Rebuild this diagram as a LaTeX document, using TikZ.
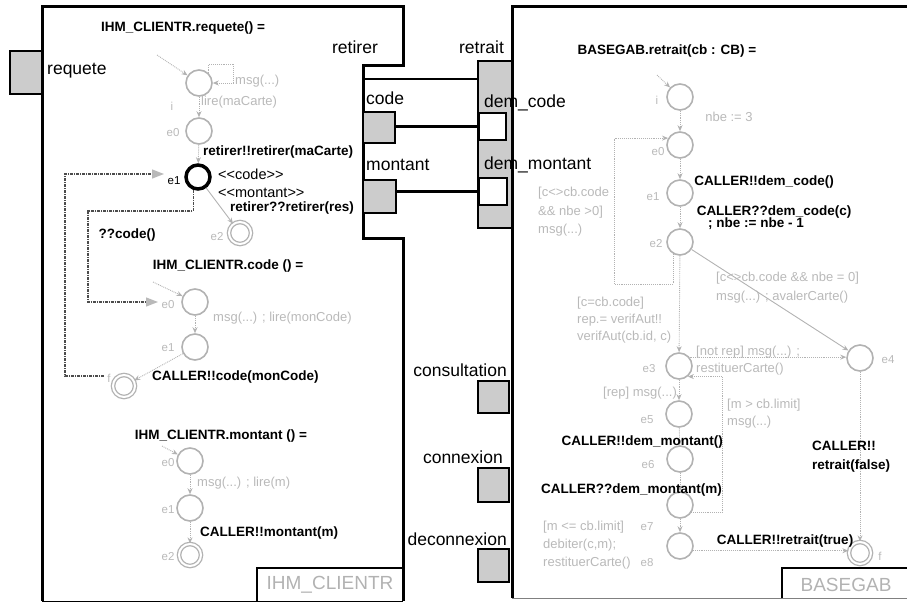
\documentclass[tikz,border=0pt]{standalone}
\usepackage{fontspec}
\setmainfont{Liberation Sans}
\usetikzlibrary{arrows.meta}
\newcommand\fbld{\fontsize{13.5}{14}\selectfont\bfseries}
\newcommand\fgry{\fontsize{13}{13.5}\selectfont}
\newcommand\fsml{\fontsize{11.5}{12}\selectfont}
\newcommand\fprt{\fontsize{17.5}{18}\selectfont}
\newcommand\freg{\fontsize{14.5}{15}\selectfont}
\tikzset{
 panel/.style={draw=black, line width=3pt},
 port/.style={draw=black, line width=2.5pt, fill=gray!40, inner sep=0pt},
 wport/.style={port, fill=white},
 conn/.style={draw=black, line width=2.5pt},
 st/.style={circle, draw=gray!60, line width=1.6pt, minimum size=26pt, inner sep=0pt},
 fin/.style={circle, draw=gray!60, double=white, double distance=2pt, line width=1.3pt, minimum size=22pt, inner sep=0pt},
 tr/.style={draw=gray!60, line width=0.9pt, densely dotted, -{Stealth[length=6pt,width=5pt]}},
 trs/.style={draw=gray!60, line width=0.9pt, -{Stealth[length=6pt,width=5pt]}},
 dd/.style={draw=black!70, line width=1.3pt, dash pattern=on 3pt off 1pt on 1pt off 1pt, -{Triangle[length=12pt,width=9pt,color=gray!55]}},
 bl/.style={font=\fbld, inner sep=0pt},
 gl/.style={font=\fgry, text=gray!55, inner sep=0pt},
 sl/.style={font=\fsml, text=gray!55, inner sep=0pt},
 pl/.style={font=\fprt, inner sep=0pt},
 rl/.style={font=\freg, inner sep=0pt},
 ttl/.style={font=\fontsize{19}{19}\selectfont, text=gray!60, inner sep=0pt},
}
\begin{document}
\begin{tikzpicture}[x=1pt,y=-1pt]
\useasboundingbox (0,0) rectangle (907,603);
% panels
\draw[panel] (42,601) -- (42,6) -- (403,6) -- (403,65) -- (363,65) -- (363,238) -- (403,238) -- (403,601);
\draw[line width=0.8pt] (42,601) -- (403,601);
\draw[panel] (912,6) -- (512,6) -- (512,598);
\draw[line width=0.8pt, gray] (512,598) -- (912,598);
\draw[line width=2.5pt] (257,601) -- (257,568) -- (403,568);
\node[ttl] (nameL) at (330,585) {IHM\_CLIENTR};
\draw[line width=2.5pt] (782,598) -- (782,568) -- (912,568);
\node[ttl] (nameR) at (846,585) {BASEGAB};
% ports
\node[port, minimum width=32pt, minimum height=43pt] (preq) at (26,72.5) {};
\node[pl, anchor=west] (lreq) at (47,71) {requete};
\node[port, minimum width=32pt, minimum height=31pt] (pcode) at (379,127.5) {};
\node[port, minimum width=33pt, minimum height=33pt] (pmont) at (379.5,196.5) {};
\node[port, minimum width=34pt, minimum height=167pt] (pret) at (495,144.5) {};
\node[wport, minimum width=27pt, minimum height=27pt] (pdemc) at (492.5,126.5) {};
\node[wport, minimum width=28pt, minimum height=27pt] (pdemm) at (493,191.5) {};
\node[pl] (lretirer) at (355,47) {retirer};
\node[pl] (lretrait) at (481.5,47) {retrait};
\node[pl, anchor=west] (lcode) at (366,98) {code};
\node[pl, anchor=west] (lmont) at (366,165) {montant};
\node[pl, anchor=west] (ldemc) at (484,103) {dem\_code};
\node[pl, anchor=west] (ldemm) at (484,165) {dem\_montant};
\coordinate (rpt) at (363,79);
\draw[conn] (rpt) -- (rpt -| pret.west);
\draw[conn] (pdemc.west -| pcode.east) -- (pdemc.west);
\draw[conn] (pdemm.west -| pmont.east) -- (pdemm.west);
\node[port, minimum width=31pt, minimum height=32pt] (pcons) at (493.5,397) {};
\node[pl, anchor=east] (lcons) at (507,370) {consultation};
\node[port, minimum width=31pt, minimum height=34pt] (pconn) at (493.5,485) {};
\node[pl, anchor=east] (lconn) at (503,457) {connexion};
\node[port, minimum width=31pt, minimum height=33pt] (pdec) at (493.5,565.5) {};
\node[pl, anchor=east] (ldec) at (507,539) {deconnexion};
% ---------- left: requete
\node[bl] (t1) at (183,28) {IHM\_CLIENTR.requete() =};
\node[st] (ri) at (199,83) {};
\node[st] (re0) at (199,131) {};
\node[circle, draw=black, line width=3.5pt, minimum size=24pt, inner sep=0pt] (re1) at (198,177) {};
\node[fin] (re2) at (240,233) {};
\coordinate (riin) at (157,55);
\draw[tr] (riin) -- (ri);
\draw[tr] (ri.north east) -- ++(0,-9) -| ([xshift=21pt]ri.east) -- (ri.east);
\draw[tr] (ri) -- (re0);
\draw[tr] (re0) -- (re1);
\draw[trs] (re1) -- (re2);
\node[sl] (li) at (172,106) {i};
\node[gl, anchor=west] (lmsg1) at (235,81) {msg(...)};
\node[gl, anchor=west] (llire) at (201,102) {lire(maCarte)};
\node[sl] (lre0) at (173,133) {e0};
\node[bl, anchor=west] (lrr) at (203,152) {retirer!!retirer(maCarte)};
\node[font=\fsml, inner sep=0pt] (lre1) at (174,181) {e1};
\node[rl, anchor=west] (lcc) at (218,174) {<\kern0pt<code>\kern0pt>};
\node[rl, anchor=west] (lmm) at (218,193) {<\kern0pt<montant>\kern0pt>};
\node[bl, anchor=west] (lrres) at (230,208) {retirer??retirer(res)};
\node[sl] (lre2) at (217,237) {e2};
% ---------- left: code
\node[bl] (t2) at (228,266) {IHM\_CLIENTR.code () =};
\node[st] (ce0) at (195,302) {};
\node[st] (ce1) at (195,347) {};
\node[fin] (cf) at (124,386) {};
\coordinate (cin) at (153,282);
\draw[tr] (cin) -- (ce0);
\draw[tr] (ce0) -- (ce1);
\draw[tr] (ce1) -- (cf);
\node[sl] (lce0) at (168,305) {e0};
\node[sl] (lce1) at (168,348) {e1};
\node[gl, anchor=west] (lmsg2) at (213,318) {msg(...) ; lire(monCode)};
\node[sl] (lcf) at (109,378) {f};
\node[bl, anchor=west] (lcm) at (152,377) {CALLER!!code(monCode)};
\node[bl] (lqc) at (127,235) {??code()};
% dash-dot links
\coordinate (dd1a) at (88,211);
\coordinate (dd1end) at (158,302);
\draw[dd] (re1.250) |- (dd1a) |- (dd1end);
\coordinate (dd2a) at (104,376);
\coordinate (dd2b) at (65,174);
\coordinate (dd2end) at (164,174);
\draw[dd] (dd2a) -| (dd2b) -- (dd2end);
% ---------- left: montant
\node[bl] (t3) at (221,436) {IHM\_CLIENTR.montant () =};
\node[st] (me0) at (190,461) {};
\node[st] (me1) at (190,508) {};
\node[fin] (me2) at (190,555) {};
\coordinate (min) at (162,446);
\draw[tr] (min) -- (me0);
\draw[tr] (me0) -- (me1);
\draw[tr] (me1) -- (me2);
\node[sl] (lme0) at (168,463) {e0};
\node[sl] (lme1) at (168,510) {e1};
\node[sl] (lme2) at (168,557) {e2};
\node[gl, anchor=west] (lmsg3) at (197,483) {msg(...) ; lire(m)};
\node[bl, anchor=west] (lcmm) at (200,533) {CALLER!!montant(m)};
% ---------- right: BASEGAB
\node[bl] (t4) at (667,51) {BASEGAB.retrait(cb : CB) =};
\node[st] (bi) at (680,97) {};
\node[st] (be0) at (680,145) {};
\node[st] (be1) at (680,193) {};
\node[st] (be2) at (680,242) {};
\node[st] (be3) at (679,366) {};
\node[st] (be4) at (860,358) {};
\node[st] (be5) at (679,414) {};
\node[st] (be6) at (680,459) {};
\node[st] (be7) at (680,505) {};
\node[st] (be8) at (680,546) {};
\node[fin] (bf) at (860,553) {};
\coordinate (bin) at (657,75);
\draw[tr] (bin) -- (bi);
\draw[tr] (bi) -- (be0);
\draw[tr] (be0) -- (be1);
\draw[tr] (be1) -- (be2);
\coordinate (lpA) at (614,284);
\draw[tr] (be2.240) |- (lpA) |- (be0.150);
\draw[tr] (be2) -- (be3);
\draw[trs] (be2) -- (be4);
\draw[tr] (be3.40) -- (be4.west |- be3.40);
\coordinate (lpB) at (722,0);
\draw[tr] (be7.-35) -| (lpB |- be3.-50) -- (be3.-50);
\draw[tr] (be3) -- (be5);
\draw[tr] (be5) -- (be6);
\draw[tr] (be6) -- (be7);
\draw[tr] (be7) -- (be8);
\draw[tr] (be8.-20) -- (bf.west |- be8.-20);
\draw[tr] (be4) -- (bf);
\node[sl] (lbi) at (657,100) {i};
\node[gl] (lnbe) at (729,117) {nbe := 3};
\node[sl] (lbe0) at (658,152) {e0};
\node[bl] (ldc) at (764,182) {CALLER!!dem\_code()};
\node[sl] (lbe1) at (653,197) {e1};
\node[bl] (ldcc) at (774,212) {CALLER??dem\_code(c)};
\node[bl, anchor=west] (lnbe2) at (708,224) {; nbe := nbe - 1};
\node[sl] (lbe2) at (656,244) {e2};
\node[gl, anchor=west] (g1) at (538,193) {[c<>cb.code};
\node[gl, anchor=west] (g2) at (538,212) {\&\& nbe >0]};
\node[gl, anchor=west] (g3) at (538,230) {msg(...)};
\node[gl, anchor=west] (g4) at (577,303) {[c=cb.code]};
\node[gl, anchor=west] (g5) at (577,320) {rep.= verifAut!!};
\node[gl, anchor=west] (g6) at (577,337) {verifAut(cb.id, c)};
\node[gl, anchor=west] (g7) at (716,278) {[c<>cb.code \&\& nbe = 0]};
\node[gl, anchor=west] (g8) at (716,297) {msg(...) ; avalerCarte()};
\node[sl] (lbe3) at (649,369) {e3};
\node[sl] (lbe4) at (888,360) {e4};
\node[gl, anchor=west] (g9) at (696,352) {[not rep] msg(...) ;};
\node[gl, anchor=west] (g10) at (696,369) {restituerCarte()};
\node[gl, anchor=west] (g11) at (603,393) {[rep] msg(...)};
\node[sl] (lbe5) at (647,420) {e5};
\node[gl, anchor=west] (g12) at (727,405) {[m > cb.limit]};
\node[gl, anchor=west] (g13) at (727,422) {msg(...)};
\node[bl, anchor=east] (ldm) at (723,442) {CALLER!!dem\_montant()};
\node[sl] (lbe6) at (648,465) {e6};
\node[bl, anchor=east] (ldmm) at (722,490) {CALLER??dem\_montant(m)};
\node[gl, anchor=west] (g14) at (543,527) {[m <= cb.limit]};
\node[sl] (lbe7) at (647,527) {e7};
\node[gl, anchor=west] (g15) at (543,545) {debiter(c,m);};
\node[gl, anchor=west] (g16) at (543,563) {restituerCarte()};
\node[sl] (lbe8) at (647,563) {e8};
\node[bl, anchor=west] (lcf1) at (812,446) {CALLER!!};
\node[bl, anchor=west] (lcf2) at (812,466) {retrait(false)};
\node[bl] (lct) at (785,541) {CALLER!!retrait(true)};
\node[sl] (lbf) at (880,556) {f};
\end{tikzpicture}
\end{document}
